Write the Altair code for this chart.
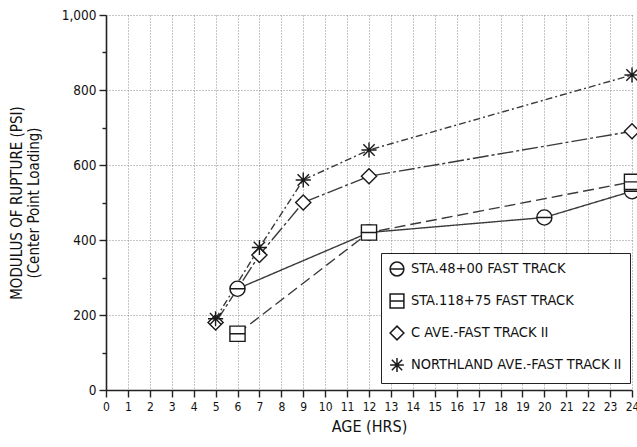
import altair as alt
import pandas as pd

# ---- data ----
series_names = [
    "STA.48+00 FAST TRACK",
    "STA.118+75 FAST TRACK",
    "C AVE.-FAST TRACK II",
    "NORTHLAND AVE.-FAST TRACK II",
]
sta48_age = [6, 12, 20, 24]
sta48_mor = [270, 420, 460, 530]
sta118_age = [6, 12, 24]
sta118_mor = [150, 420, 555]
cave_age = [5, 7, 9, 12, 24]
cave_mor = [180, 360, 500, 570, 690]
north_age = [5, 7, 9, 12, 24]
north_mor = [190, 380, 560, 640, 840]

x_ticks = list(range(0, 25))
y_ticks = list(range(0, 1001, 100))

rows = []
for name, ages, mors in zip(
    series_names,
    [sta48_age, sta118_age, cave_age, north_age],
    [sta48_mor, sta118_mor, cave_mor, north_mor],
):
    for a, m in zip(ages, mors):
        rows.append({"series": name, "line_series": name, "age": a, "mor": m})
df = pd.DataFrame(rows)

FONT = "DejaVu Sans Condensed, Liberation Sans Narrow, Liberation Sans, sans-serif"

shape_paths = [
    "M-1,0A1,1 0 1,1 1,0A1,1 0 1,1 -1,0ZM-1,0L1,0",
    "M-1,-1H1V1H-1ZM-1,0H1",
    "M0,-1L1,0L0,1L-1,0Z",
    "M-1,0H1M0,-1V1M-0.75,-0.75L0.75,0.75M-0.75,0.75L0.75,-0.75",
]
dashes = [[1, 0], [11, 5], [16, 3, 3, 3], [7, 3, 2, 3]]


def x_enc():
    return alt.X(
        "age:Q",
        scale=alt.Scale(domain=[0, 24], nice=False),
        axis=alt.Axis(
            values=x_ticks,
            tickCount=25,
            title="AGE (HRS)",
            grid=True,
            gridDash=[1, 2],
            gridColor="#8a8a8a",
            tickSize=7,
            labelFontSize=12,
            labelPadding=4,
            labelOverlap=False,
            titleFontSize=16,
            titlePadding=6,
            labelFlush=False,
        ),
    )


def y_enc():
    return alt.Y(
        "mor:Q",
        scale=alt.Scale(domain=[0, 1000], nice=False),
        axis=alt.Axis(
            values=y_ticks,
            tickCount=11,
            labelExpr="datum.value % 200 === 0 ? format(datum.value, ',') : ''",
            title=["MODULUS OF RUPTURE (PSI)", "(Center Point Loading)"],
            grid=True,
            gridDash=[1, 2],
            gridColor="#8a8a8a",
            gridOpacity={"condition": {"test": "datum.value % 200 === 0", "value": 1}, "value": 0},
            tickSize={"condition": {"test": "datum.value % 200 === 0", "value": 7}, "value": 4},
            labelFontSize=13.5,
            labelPadding=3,
            labelOverlap=False,
            titleFontSize=15,
            titleFontWeight="normal",
            titlePadding=20,
            titleLineHeight=17,
            labelFlush=False,
        ),
    )


lines = alt.Chart(df).mark_line(color="#3a3a3a", strokeWidth=1.4).encode(
    x=x_enc(),
    y=y_enc(),
    strokeDash=alt.StrokeDash(
        "line_series:N",
        scale=alt.Scale(domain=series_names, range=dashes),
        legend=None,
    ),
    detail="line_series:N",
)

points = alt.Chart(df).mark_point(
    color="#1a1a1a", strokeWidth=1.4, size=230, fill="white", fillOpacity=1, opacity=1
).encode(
    x=x_enc(),
    y=y_enc(),
    shape=alt.Shape(
        "series:N",
        scale=alt.Scale(domain=series_names, range=shape_paths),
        legend=alt.Legend(
            title=None,
            orient="none",
            legendX=275,
            legendY=238,
            strokeColor="#222",
            fillColor="white",
            padding=8,
            rowPadding=12,
            labelFontSize=14.5,
            labelFont=FONT,
            labelColor="#111",
            labelLimit=300,
            symbolSize=190,
            labelOffset=6,
        ),
    ),
)

chart = (
    alt.layer(lines, points)
    .resolve_legend(shape="independent", strokeDash="independent")
    .properties(
        width=526,
        height=375,
        padding={"left": 106, "top": 15, "right": 5, "bottom": 57},
        autosize=alt.AutoSizeParams(type="none"),
        background="white",
    )
    .configure_view(strokeWidth=0)
    .configure_axis(
        labelFont=FONT,
        titleFont=FONT,
        labelColor="#111",
        titleColor="#111",
        domainColor="#222",
        domainWidth=1.6,
        tickColor="#222",
        tickWidth=1.4,
        titleFontWeight="normal",
    )
)

chart.save("out.html", embed_options={"renderer": "svg", "actions": False})
